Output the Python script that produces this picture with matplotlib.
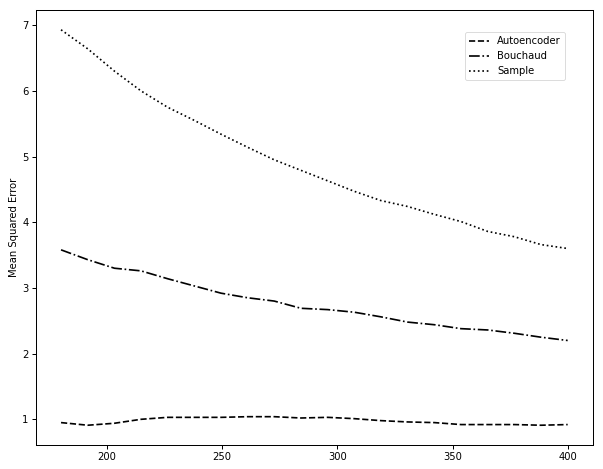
import numpy as np
import matplotlib
matplotlib.use("Agg")
import matplotlib.pyplot as plt

x = [180.0, 191.6, 203.2, 214.7, 226.3, 237.9, 249.5, 261.1, 272.6, 284.2,
     295.8, 307.4, 318.9, 330.5, 342.1, 353.7, 365.3, 376.8, 388.4, 400.0]

autoencoder = [0.95, 0.91, 0.94, 1.00, 1.03, 1.03, 1.03, 1.04, 1.04, 1.02,
               1.03, 1.01, 0.98, 0.96, 0.95, 0.92, 0.92, 0.92, 0.91, 0.92]
bouchaud = [3.58, 3.43, 3.30, 3.26, 3.14, 3.03, 2.92, 2.85, 2.80, 2.69,
            2.67, 2.63, 2.56, 2.48, 2.44, 2.38, 2.36, 2.31, 2.25, 2.20]
sample = [6.93, 6.64, 6.30, 6.00, 5.75, 5.55, 5.34, 5.14, 4.95, 4.79,
          4.63, 4.47, 4.33, 4.24, 4.12, 4.01, 3.86, 3.78, 3.66, 3.60]

plt.rcParams["font.size"] = 12
dpi = 60.3
fig = plt.figure(figsize=(603 / dpi, 469 / dpi), dpi=dpi)
ax = fig.add_axes([35.7 / 603, 1 - 445 / 469, (593 - 35.7) / 603, (445 - 10) / 469])

lw = 2.0
ax.plot(x, autoencoder, color="black", linestyle="--", lw=lw, label="Autoencoder")
ax.plot(x, bouchaud, color="black", linestyle="-.", lw=lw, label="Bouchaud")
ax.plot(x, sample, color="black", linestyle=":", lw=lw, label="Sample")

ax.set_ylabel("Mean Squared Error")
ax.set_xticks([200, 250, 300, 350, 400])
ax.set_yticks([1, 2, 3, 4, 5, 6, 7])
for s in ax.spines.values():
    s.set_linewidth(1.2)
ax.tick_params(width=1.2, length=5)

ax.legend(loc="upper right", bbox_to_anchor=((565 - 35.7) / (593 - 35.7), 1 - (32 - 10) / 435),
          borderaxespad=0)

fig.savefig("out.png", dpi=dpi)
